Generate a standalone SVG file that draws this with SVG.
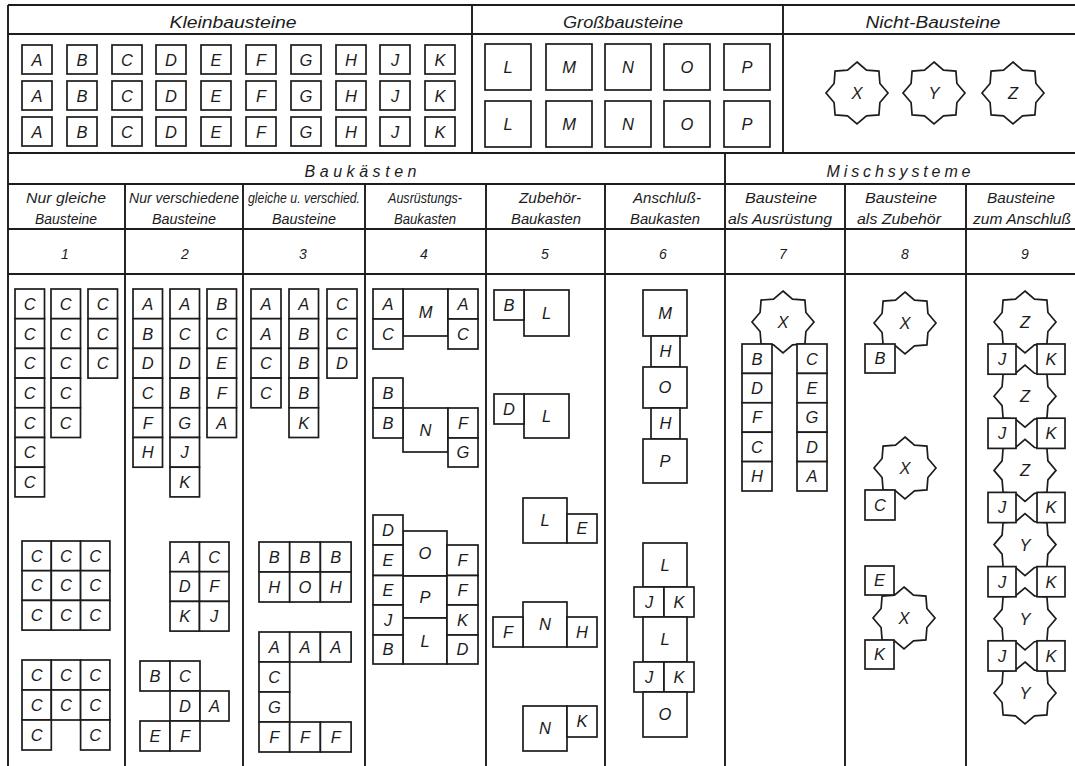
<svg xmlns="http://www.w3.org/2000/svg" xmlns:xlink="http://www.w3.org/1999/xlink" width="1075" height="766" viewBox="0 0 1075 766">
<style>
.bx{fill:#fff;stroke:#1c1c1c;stroke-width:1.7}
.tl{stroke:#1c1c1c;stroke-width:1.9;fill:none}
text{font-family:"Liberation Sans",Arial,sans-serif;font-style:italic;fill:#1c1c1c;text-anchor:middle}
.lt{font-size:16.5px}
.hd{font-size:16px}
.ch{font-size:14.5px}
.nm{font-size:14px}
</style>
<defs>
<polygon id="star" points="0,-31 9.49,-22.91 21.92,-21.92 22.91,-9.49 31,0 22.91,9.49 21.92,21.92 9.49,22.91 0,31 -9.49,22.91 -21.92,21.92 -22.91,9.49 -31,0 -22.91,-9.49 -21.92,-21.92 -9.49,-22.91" fill="#fff" stroke="#1c1c1c" stroke-width="1.7"/>
</defs>
<rect width="1075" height="766" fill="#fff"/>
<g id="table">
<path class="tl" d="M8,5 H1075 M8,34 H1075 M8,153 H1075 M8,184 H1075 M8,229 H1075 M8,274 H1075 M8,5 V766 M472,5 V153 M783,5 V153 M725,153 V766 M125,184 V766 M243,184 V766 M365,184 V766 M486,184 V766 M605,184 V766 M845,184 V766 M966,184 V766"/>
</g>
<g id="headers">
<text class="hd" x="233" y="28" textLength="127" lengthAdjust="spacingAndGlyphs">Kleinbausteine</text>
<text class="hd" x="623" y="28" textLength="120" lengthAdjust="spacingAndGlyphs">Großbausteine</text>
<text class="hd" x="933" y="28" textLength="135" lengthAdjust="spacingAndGlyphs">Nicht-Bausteine</text>
<text class="hd" x="362" y="177" textLength="115" letter-spacing="3">Baukästen</text>
<text class="hd" x="900" y="177" textLength="147" letter-spacing="3">Mischsysteme</text>
<text class="ch" x="66" y="203" textLength="80" lengthAdjust="spacingAndGlyphs">Nur gleiche</text>
<text class="ch" x="66" y="224" textLength="62" lengthAdjust="spacingAndGlyphs">Bausteine</text>
<text class="ch" x="184" y="203" textLength="110" lengthAdjust="spacingAndGlyphs">Nur verschiedene</text>
<text class="ch" x="184" y="224" textLength="64" lengthAdjust="spacingAndGlyphs">Bausteine</text>
<text class="ch" x="304" y="203" textLength="112" lengthAdjust="spacingAndGlyphs">gleiche u. verschied.</text>
<text class="ch" x="304" y="224" textLength="64" lengthAdjust="spacingAndGlyphs">Bausteine</text>
<text class="ch" x="425" y="203" textLength="74" lengthAdjust="spacingAndGlyphs">Ausrüstungs-</text>
<text class="ch" x="425" y="224" textLength="62" lengthAdjust="spacingAndGlyphs">Baukasten</text>
<text class="ch" x="550" y="203" textLength="62" lengthAdjust="spacingAndGlyphs">Zubehör-</text>
<text class="ch" x="546" y="224" textLength="70" lengthAdjust="spacingAndGlyphs">Baukasten</text>
<text class="ch" x="667" y="203" textLength="68" lengthAdjust="spacingAndGlyphs">Anschluß-</text>
<text class="ch" x="665" y="224" textLength="70" lengthAdjust="spacingAndGlyphs">Baukasten</text>
<text class="ch" x="781" y="203" textLength="72" lengthAdjust="spacingAndGlyphs">Bausteine</text>
<text class="ch" x="780" y="224" textLength="104" lengthAdjust="spacingAndGlyphs">als Ausrüstung</text>
<text class="ch" x="901" y="203" textLength="72" lengthAdjust="spacingAndGlyphs">Bausteine</text>
<text class="ch" x="899" y="224" textLength="84" lengthAdjust="spacingAndGlyphs">als Zubehör</text>
<text class="ch" x="1021" y="203" textLength="68" lengthAdjust="spacingAndGlyphs">Bausteine</text>
<text class="ch" x="1022" y="224" textLength="98" lengthAdjust="spacingAndGlyphs">zum Anschluß</text>
<text class="nm" x="65" y="259">1</text>
<text class="nm" x="185" y="259">2</text>
<text class="nm" x="303" y="259">3</text>
<text class="nm" x="424" y="259">4</text>
<text class="nm" x="545" y="259">5</text>
<text class="nm" x="663" y="259">6</text>
<text class="nm" x="783" y="259">7</text>
<text class="nm" x="905" y="259">8</text>
<text class="nm" x="1025" y="259">9</text>
</g>
<!-- Kleinbausteine -->
<g id="k1A"><rect class="bx" x="22" y="45" width="30" height="29"/><text class="lt" x="37" y="65.5">A</text></g>
<g id="k1B"><rect class="bx" x="67" y="45" width="30" height="29"/><text class="lt" x="82" y="65.5">B</text></g>
<g id="k1C"><rect class="bx" x="112" y="45" width="30" height="29"/><text class="lt" x="127" y="65.5">C</text></g>
<g id="k1D"><rect class="bx" x="156" y="45" width="30" height="29"/><text class="lt" x="171" y="65.5">D</text></g>
<g id="k1E"><rect class="bx" x="201" y="45" width="30" height="29"/><text class="lt" x="216" y="65.5">E</text></g>
<g id="k1F"><rect class="bx" x="246" y="45" width="30" height="29"/><text class="lt" x="261" y="65.5">F</text></g>
<g id="k1G"><rect class="bx" x="291" y="45" width="30" height="29"/><text class="lt" x="306" y="65.5">G</text></g>
<g id="k1H"><rect class="bx" x="336" y="45" width="30" height="29"/><text class="lt" x="351" y="65.5">H</text></g>
<g id="k1J"><rect class="bx" x="380" y="45" width="30" height="29"/><text class="lt" x="395" y="65.5">J</text></g>
<g id="k1K"><rect class="bx" x="425" y="45" width="30" height="29"/><text class="lt" x="440" y="65.5">K</text></g>
<g id="k2A"><rect class="bx" x="22" y="81" width="30" height="29"/><text class="lt" x="37" y="101.5">A</text></g>
<g id="k2B"><rect class="bx" x="67" y="81" width="30" height="29"/><text class="lt" x="82" y="101.5">B</text></g>
<g id="k2C"><rect class="bx" x="112" y="81" width="30" height="29"/><text class="lt" x="127" y="101.5">C</text></g>
<g id="k2D"><rect class="bx" x="156" y="81" width="30" height="29"/><text class="lt" x="171" y="101.5">D</text></g>
<g id="k2E"><rect class="bx" x="201" y="81" width="30" height="29"/><text class="lt" x="216" y="101.5">E</text></g>
<g id="k2F"><rect class="bx" x="246" y="81" width="30" height="29"/><text class="lt" x="261" y="101.5">F</text></g>
<g id="k2G"><rect class="bx" x="291" y="81" width="30" height="29"/><text class="lt" x="306" y="101.5">G</text></g>
<g id="k2H"><rect class="bx" x="336" y="81" width="30" height="29"/><text class="lt" x="351" y="101.5">H</text></g>
<g id="k2J"><rect class="bx" x="380" y="81" width="30" height="29"/><text class="lt" x="395" y="101.5">J</text></g>
<g id="k2K"><rect class="bx" x="425" y="81" width="30" height="29"/><text class="lt" x="440" y="101.5">K</text></g>
<g id="k3A"><rect class="bx" x="22" y="117" width="30" height="29"/><text class="lt" x="37" y="137.5">A</text></g>
<g id="k3B"><rect class="bx" x="67" y="117" width="30" height="29"/><text class="lt" x="82" y="137.5">B</text></g>
<g id="k3C"><rect class="bx" x="112" y="117" width="30" height="29"/><text class="lt" x="127" y="137.5">C</text></g>
<g id="k3D"><rect class="bx" x="156" y="117" width="30" height="29"/><text class="lt" x="171" y="137.5">D</text></g>
<g id="k3E"><rect class="bx" x="201" y="117" width="30" height="29"/><text class="lt" x="216" y="137.5">E</text></g>
<g id="k3F"><rect class="bx" x="246" y="117" width="30" height="29"/><text class="lt" x="261" y="137.5">F</text></g>
<g id="k3G"><rect class="bx" x="291" y="117" width="30" height="29"/><text class="lt" x="306" y="137.5">G</text></g>
<g id="k3H"><rect class="bx" x="336" y="117" width="30" height="29"/><text class="lt" x="351" y="137.5">H</text></g>
<g id="k3J"><rect class="bx" x="380" y="117" width="30" height="29"/><text class="lt" x="395" y="137.5">J</text></g>
<g id="k3K"><rect class="bx" x="425" y="117" width="30" height="29"/><text class="lt" x="440" y="137.5">K</text></g>
<!-- Grossbausteine -->
<g id="g1L"><rect class="bx" x="485" y="44" width="46" height="46"/><text class="lt" x="508" y="73">L</text></g>
<g id="g1M"><rect class="bx" x="546" y="44" width="46" height="46"/><text class="lt" x="569" y="73">M</text></g>
<g id="g1N"><rect class="bx" x="605" y="44" width="46" height="46"/><text class="lt" x="628" y="73">N</text></g>
<g id="g1O"><rect class="bx" x="664" y="44" width="46" height="46"/><text class="lt" x="687" y="73">O</text></g>
<g id="g1P"><rect class="bx" x="724" y="44" width="46" height="46"/><text class="lt" x="747" y="73">P</text></g>
<g id="g2L"><rect class="bx" x="485" y="101" width="46" height="46"/><text class="lt" x="508" y="130">L</text></g>
<g id="g2M"><rect class="bx" x="546" y="101" width="46" height="46"/><text class="lt" x="569" y="130">M</text></g>
<g id="g2N"><rect class="bx" x="605" y="101" width="46" height="46"/><text class="lt" x="628" y="130">N</text></g>
<g id="g2O"><rect class="bx" x="664" y="101" width="46" height="46"/><text class="lt" x="687" y="130">O</text></g>
<g id="g2P"><rect class="bx" x="724" y="101" width="46" height="46"/><text class="lt" x="747" y="130">P</text></g>
<!-- Nicht-Bausteine -->
<g id="nX"><use xlink:href="#star" x="857" y="93"/><text class="lt" x="857" y="99">X</text></g>
<g id="nY"><use xlink:href="#star" x="934" y="93"/><text class="lt" x="934" y="99">Y</text></g>
<g id="nZ"><use xlink:href="#star" x="1013" y="93"/><text class="lt" x="1013" y="99">Z</text></g>
<!-- Column 1 -->
<g id="c1a1"><rect class="bx" x="15" y="289" width="29.5" height="29.7"/><text class="lt" x="29.7" y="309.8">C</text></g>
<g id="c1a2"><rect class="bx" x="15" y="318.7" width="29.5" height="29.7"/><text class="lt" x="29.7" y="339.5">C</text></g>
<g id="c1a3"><rect class="bx" x="15" y="348.4" width="29.5" height="29.7"/><text class="lt" x="29.7" y="369.2">C</text></g>
<g id="c1a4"><rect class="bx" x="15" y="378.1" width="29.5" height="29.7"/><text class="lt" x="29.7" y="398.9">C</text></g>
<g id="c1a5"><rect class="bx" x="15" y="407.8" width="29.5" height="29.7"/><text class="lt" x="29.7" y="428.6">C</text></g>
<g id="c1a6"><rect class="bx" x="15" y="437.5" width="29.5" height="29.7"/><text class="lt" x="29.7" y="458.3">C</text></g>
<g id="c1a7"><rect class="bx" x="15" y="467.2" width="29.5" height="29.7"/><text class="lt" x="29.7" y="488">C</text></g>
<g id="c1b1"><rect class="bx" x="51" y="289" width="29.5" height="29.7"/><text class="lt" x="65.7" y="309.8">C</text></g>
<g id="c1b2"><rect class="bx" x="51" y="318.7" width="29.5" height="29.7"/><text class="lt" x="65.7" y="339.5">C</text></g>
<g id="c1b3"><rect class="bx" x="51" y="348.4" width="29.5" height="29.7"/><text class="lt" x="65.7" y="369.2">C</text></g>
<g id="c1b4"><rect class="bx" x="51" y="378.1" width="29.5" height="29.7"/><text class="lt" x="65.7" y="398.9">C</text></g>
<g id="c1b5"><rect class="bx" x="51" y="407.8" width="29.5" height="29.7"/><text class="lt" x="65.7" y="428.6">C</text></g>
<g id="c1c1"><rect class="bx" x="88" y="289" width="29.5" height="29.7"/><text class="lt" x="102.7" y="309.8">C</text></g>
<g id="c1c2"><rect class="bx" x="88" y="318.7" width="29.5" height="29.7"/><text class="lt" x="102.7" y="339.5">C</text></g>
<g id="c1c3"><rect class="bx" x="88" y="348.4" width="29.5" height="29.7"/><text class="lt" x="102.7" y="369.2">C</text></g>
<g id="c1g1"><rect class="bx" x="22" y="541" width="29.3" height="29.7"/><text class="lt" x="36.7" y="561.7">C</text>
<rect class="bx" x="51.3" y="541" width="29.3" height="29.7"/><text class="lt" x="66" y="561.7">C</text>
<rect class="bx" x="80.6" y="541" width="29.3" height="29.7"/><text class="lt" x="95.3" y="561.7">C</text>
<rect class="bx" x="22" y="570.7" width="29.3" height="29.7"/><text class="lt" x="36.7" y="591.4">C</text>
<rect class="bx" x="51.3" y="570.7" width="29.3" height="29.7"/><text class="lt" x="66" y="591.4">C</text>
<rect class="bx" x="80.6" y="570.7" width="29.3" height="29.7"/><text class="lt" x="95.3" y="591.4">C</text>
<rect class="bx" x="22" y="600.4" width="29.3" height="29.7"/><text class="lt" x="36.7" y="621.1">C</text>
<rect class="bx" x="51.3" y="600.4" width="29.3" height="29.7"/><text class="lt" x="66" y="621.1">C</text>
<rect class="bx" x="80.6" y="600.4" width="29.3" height="29.7"/><text class="lt" x="95.3" y="621.1">C</text></g>
<g id="c1g2"><rect class="bx" x="22" y="660" width="29.3" height="30"/><text class="lt" x="36.7" y="680.9">C</text>
<rect class="bx" x="51.3" y="660" width="29.3" height="30"/><text class="lt" x="66" y="680.9">C</text>
<rect class="bx" x="80.6" y="660" width="29.3" height="30"/><text class="lt" x="95.3" y="680.9">C</text>
<rect class="bx" x="22" y="690" width="29.3" height="30"/><text class="lt" x="36.7" y="710.9">C</text>
<rect class="bx" x="51.3" y="690" width="29.3" height="30"/><text class="lt" x="66" y="710.9">C</text>
<rect class="bx" x="80.6" y="690" width="29.3" height="30"/><text class="lt" x="95.3" y="710.9">C</text>
<rect class="bx" x="22" y="720" width="29.3" height="30"/><text class="lt" x="36.7" y="740.9">C</text>
<rect class="bx" x="80.6" y="720" width="29.3" height="30"/><text class="lt" x="95.3" y="740.9">C</text></g>
<!-- Column 2 -->
<g id="c2a"><rect class="bx" x="133" y="289" width="29.5" height="29.7"/><text class="lt" x="147.7" y="309.8">A</text>
<rect class="bx" x="133" y="318.7" width="29.5" height="29.7"/><text class="lt" x="147.7" y="339.5">B</text>
<rect class="bx" x="133" y="348.4" width="29.5" height="29.7"/><text class="lt" x="147.7" y="369.2">D</text>
<rect class="bx" x="133" y="378.1" width="29.5" height="29.7"/><text class="lt" x="147.7" y="398.9">C</text>
<rect class="bx" x="133" y="407.8" width="29.5" height="29.7"/><text class="lt" x="147.7" y="428.6">F</text>
<rect class="bx" x="133" y="437.5" width="29.5" height="29.7"/><text class="lt" x="147.7" y="458.3">H</text></g>
<g id="c2b"><rect class="bx" x="170" y="289" width="29.5" height="29.7"/><text class="lt" x="184.7" y="309.8">A</text>
<rect class="bx" x="170" y="318.7" width="29.5" height="29.7"/><text class="lt" x="184.7" y="339.5">C</text>
<rect class="bx" x="170" y="348.4" width="29.5" height="29.7"/><text class="lt" x="184.7" y="369.2">D</text>
<rect class="bx" x="170" y="378.1" width="29.5" height="29.7"/><text class="lt" x="184.7" y="398.9">B</text>
<rect class="bx" x="170" y="407.8" width="29.5" height="29.7"/><text class="lt" x="184.7" y="428.6">G</text>
<rect class="bx" x="170" y="437.5" width="29.5" height="29.7"/><text class="lt" x="184.7" y="458.3">J</text>
<rect class="bx" x="170" y="467.2" width="29.5" height="29.7"/><text class="lt" x="184.7" y="488">K</text></g>
<g id="c2c"><rect class="bx" x="207" y="289" width="29.5" height="29.7"/><text class="lt" x="221.7" y="309.8">B</text>
<rect class="bx" x="207" y="318.7" width="29.5" height="29.7"/><text class="lt" x="221.7" y="339.5">C</text>
<rect class="bx" x="207" y="348.4" width="29.5" height="29.7"/><text class="lt" x="221.7" y="369.2">E</text>
<rect class="bx" x="207" y="378.1" width="29.5" height="29.7"/><text class="lt" x="221.7" y="398.9">F</text>
<rect class="bx" x="207" y="407.8" width="29.5" height="29.7"/><text class="lt" x="221.7" y="428.6">A</text></g>
<g id="c2g1"><rect class="bx" x="170" y="542" width="29.5" height="29.7"/><text class="lt" x="184.7" y="562.7">A</text>
<rect class="bx" x="199.5" y="542" width="29.5" height="29.7"/><text class="lt" x="214.2" y="562.7">C</text>
<rect class="bx" x="170" y="571.7" width="29.5" height="29.7"/><text class="lt" x="184.7" y="592.4">D</text>
<rect class="bx" x="199.5" y="571.7" width="29.5" height="29.7"/><text class="lt" x="214.2" y="592.4">F</text>
<rect class="bx" x="170" y="601.4" width="29.5" height="29.7"/><text class="lt" x="184.7" y="622.1">K</text>
<rect class="bx" x="199.5" y="601.4" width="29.5" height="29.7"/><text class="lt" x="214.2" y="622.1">J</text></g>
<g id="c2g2"><rect class="bx" x="140" y="661" width="30" height="30"/><text class="lt" x="155" y="681.9">B</text>
<rect class="bx" x="170" y="661" width="30" height="30"/><text class="lt" x="185" y="681.9">C</text>
<rect class="bx" x="170" y="691" width="30" height="30"/><text class="lt" x="185" y="711.9">D</text>
<rect class="bx" x="200" y="691" width="29" height="30"/><text class="lt" x="214.5" y="711.9">A</text>
<rect class="bx" x="140" y="721" width="30" height="30"/><text class="lt" x="155" y="741.9">E</text>
<rect class="bx" x="170" y="721" width="30" height="30"/><text class="lt" x="185" y="741.9">F</text></g>
<!-- Column 3 -->
<g id="c3a"><rect class="bx" x="251" y="289" width="30" height="29.7"/><text class="lt" x="266" y="309.8">A</text>
<rect class="bx" x="251" y="318.7" width="30" height="29.7"/><text class="lt" x="266" y="339.5">A</text>
<rect class="bx" x="251" y="348.4" width="30" height="29.7"/><text class="lt" x="266" y="369.2">C</text>
<rect class="bx" x="251" y="378.1" width="30" height="29.7"/><text class="lt" x="266" y="398.9">C</text></g>
<g id="c3b"><rect class="bx" x="289" y="289" width="29.5" height="29.7"/><text class="lt" x="303.7" y="309.8">A</text>
<rect class="bx" x="289" y="318.7" width="29.5" height="29.7"/><text class="lt" x="303.7" y="339.5">B</text>
<rect class="bx" x="289" y="348.4" width="29.5" height="29.7"/><text class="lt" x="303.7" y="369.2">B</text>
<rect class="bx" x="289" y="378.1" width="29.5" height="29.7"/><text class="lt" x="303.7" y="398.9">B</text>
<rect class="bx" x="289" y="407.8" width="29.5" height="29.7"/><text class="lt" x="303.7" y="428.6">K</text></g>
<g id="c3c"><rect class="bx" x="327" y="289" width="30" height="29.7"/><text class="lt" x="342" y="309.8">C</text>
<rect class="bx" x="327" y="318.7" width="30" height="29.7"/><text class="lt" x="342" y="339.5">C</text>
<rect class="bx" x="327" y="348.4" width="30" height="29.7"/><text class="lt" x="342" y="369.2">D</text></g>
<g id="c3g1"><rect class="bx" x="259" y="542" width="30.7" height="30"/><text class="lt" x="274.3" y="562.9">B</text>
<rect class="bx" x="289.7" y="542" width="30.7" height="30"/><text class="lt" x="305" y="562.9">B</text>
<rect class="bx" x="320.4" y="542" width="30.7" height="30"/><text class="lt" x="335.7" y="562.9">B</text>
<rect class="bx" x="259" y="572" width="30.7" height="30"/><text class="lt" x="274.3" y="592.9">H</text>
<rect class="bx" x="289.7" y="572" width="30.7" height="30"/><text class="lt" x="305" y="592.9">O</text>
<rect class="bx" x="320.4" y="572" width="30.7" height="30"/><text class="lt" x="335.7" y="592.9">H</text></g>
<g id="c3g2"><rect class="bx" x="259" y="632" width="30.7" height="30"/><text class="lt" x="274.3" y="652.9">A</text>
<rect class="bx" x="289.7" y="632" width="30.7" height="30"/><text class="lt" x="305" y="652.9">A</text>
<rect class="bx" x="320.4" y="632" width="30.7" height="30"/><text class="lt" x="335.7" y="652.9">A</text>
<rect class="bx" x="259" y="662" width="30.7" height="30"/><text class="lt" x="274.3" y="682.9">C</text>
<rect class="bx" x="259" y="692" width="30.7" height="30"/><text class="lt" x="274.3" y="712.9">G</text>
<rect class="bx" x="259" y="722" width="30.7" height="30"/><text class="lt" x="274.3" y="742.9">F</text>
<rect class="bx" x="289.7" y="722" width="30.7" height="30"/><text class="lt" x="305" y="742.9">F</text>
<rect class="bx" x="320.4" y="722" width="30.7" height="30"/><text class="lt" x="335.7" y="742.9">F</text></g>
<!-- Column 4 -->
<g id="c4g1"><rect class="bx" x="403" y="289" width="45" height="47"/><text class="lt" x="425.5" y="318.4">M</text>
<rect class="bx" x="373" y="289" width="30" height="30"/><text class="lt" x="388" y="309.9">A</text>
<rect class="bx" x="373" y="319" width="30" height="30"/><text class="lt" x="388" y="339.9">C</text>
<rect class="bx" x="448" y="289" width="30" height="30"/><text class="lt" x="463" y="309.9">A</text>
<rect class="bx" x="448" y="319" width="30" height="30"/><text class="lt" x="463" y="339.9">C</text></g>
<g id="c4g2"><rect class="bx" x="403" y="408" width="45" height="44"/><text class="lt" x="425.5" y="435.9">N</text>
<rect class="bx" x="373" y="378" width="30" height="30"/><text class="lt" x="388" y="398.9">B</text>
<rect class="bx" x="373" y="408" width="30" height="30"/><text class="lt" x="388" y="428.9">B</text>
<rect class="bx" x="448" y="408" width="30" height="30"/><text class="lt" x="463" y="428.9">F</text>
<rect class="bx" x="448" y="438" width="30" height="29"/><text class="lt" x="463" y="458.4">G</text></g>
<g id="c4g3"><rect class="bx" x="403" y="531" width="44" height="45"/><text class="lt" x="425" y="559.4">O</text>
<rect class="bx" x="403" y="576" width="44" height="42"/><text class="lt" x="425" y="602.9">P</text>
<rect class="bx" x="403" y="618" width="44" height="46"/><text class="lt" x="425" y="646.9">L</text>
<rect class="bx" x="373" y="515" width="30" height="30"/><text class="lt" x="388" y="535.9">D</text>
<rect class="bx" x="373" y="545" width="30" height="30.5"/><text class="lt" x="388" y="566.1">E</text>
<rect class="bx" x="373" y="575.5" width="30" height="29.5"/><text class="lt" x="388" y="596.1">E</text>
<rect class="bx" x="373" y="605" width="30" height="30"/><text class="lt" x="388" y="625.9">J</text>
<rect class="bx" x="373" y="635" width="30" height="29"/><text class="lt" x="388" y="655.4">B</text>
<rect class="bx" x="447" y="545" width="31" height="30.5"/><text class="lt" x="462.5" y="566.1">F</text>
<rect class="bx" x="447" y="575.5" width="31" height="29.5"/><text class="lt" x="462.5" y="596.1">F</text>
<rect class="bx" x="447" y="605" width="31" height="30"/><text class="lt" x="462.5" y="625.9">K</text>
<rect class="bx" x="447" y="635" width="31" height="29"/><text class="lt" x="462.5" y="655.4">D</text></g>
<!-- Column 5 -->
<g id="c5g1"><rect class="bx" x="524" y="290" width="45" height="46"/><text class="lt" x="546.5" y="318.9">L</text>
<rect class="bx" x="494" y="290" width="30" height="30"/><text class="lt" x="509" y="310.9">B</text></g>
<g id="c5g2"><rect class="bx" x="524" y="394" width="45" height="44"/><text class="lt" x="546.5" y="421.9">L</text>
<rect class="bx" x="494" y="394" width="30" height="30"/><text class="lt" x="509" y="414.9">D</text></g>
<g id="c5g3"><rect class="bx" x="523" y="498" width="44" height="45"/><text class="lt" x="545" y="526.4">L</text>
<rect class="bx" x="567" y="514" width="30" height="29"/><text class="lt" x="582" y="534.4">E</text></g>
<g id="c5g4"><rect class="bx" x="523" y="602" width="44" height="45"/><text class="lt" x="545" y="630.4">N</text>
<rect class="bx" x="493" y="617" width="30" height="30"/><text class="lt" x="508" y="637.9">F</text>
<rect class="bx" x="567" y="617" width="30" height="30"/><text class="lt" x="582" y="637.9">H</text></g>
<g id="c5g5"><rect class="bx" x="523" y="706" width="44" height="45"/><text class="lt" x="545" y="734.4">N</text>
<rect class="bx" x="567" y="706" width="30" height="31"/><text class="lt" x="582" y="727.4">K</text></g>
<!-- Column 6 -->
<g id="c6g1"><rect class="bx" x="643" y="290" width="44" height="46"/><text class="lt" x="665" y="318.9">M</text>
<rect class="bx" x="651" y="336" width="29" height="31"/><text class="lt" x="665.5" y="357.4">H</text>
<rect class="bx" x="643" y="367" width="44" height="41"/><text class="lt" x="665" y="393.4">O</text>
<rect class="bx" x="651" y="408" width="29" height="31"/><text class="lt" x="665.5" y="429.4">H</text>
<rect class="bx" x="643" y="439" width="44" height="44"/><text class="lt" x="665" y="466.9">P</text></g>
<g id="c6g2"><rect class="bx" x="643" y="543" width="44" height="44"/><text class="lt" x="665" y="570.9">L</text>
<rect class="bx" x="634" y="587" width="30" height="30"/><text class="lt" x="649" y="607.9">J</text>
<rect class="bx" x="664" y="587" width="30" height="30"/><text class="lt" x="679" y="607.9">K</text>
<rect class="bx" x="643" y="617" width="44" height="45"/><text class="lt" x="665" y="645.4">L</text>
<rect class="bx" x="634" y="662" width="30" height="30"/><text class="lt" x="649" y="682.9">J</text>
<rect class="bx" x="664" y="662" width="30" height="30"/><text class="lt" x="679" y="682.9">K</text>
<rect class="bx" x="643" y="692" width="44" height="45"/><text class="lt" x="665" y="720.4">O</text></g>
<!-- Column 7 -->
<g id="c7"><use xlink:href="#star" x="783" y="322"/><text class="lt" x="783" y="328">X</text>
<rect class="bx" x="742" y="344" width="30" height="29.4"/><text class="lt" x="757" y="364.6">B</text>
<rect class="bx" x="742" y="373.4" width="30" height="29.4"/><text class="lt" x="757" y="394">D</text>
<rect class="bx" x="742" y="402.8" width="30" height="29.4"/><text class="lt" x="757" y="423.4">F</text>
<rect class="bx" x="742" y="432.2" width="30" height="29.4"/><text class="lt" x="757" y="452.8">C</text>
<rect class="bx" x="742" y="461.6" width="30" height="29.4"/><text class="lt" x="757" y="482.2">H</text>
<rect class="bx" x="797" y="344" width="30" height="29.4"/><text class="lt" x="812" y="364.6">C</text>
<rect class="bx" x="797" y="373.4" width="30" height="29.4"/><text class="lt" x="812" y="394">E</text>
<rect class="bx" x="797" y="402.8" width="30" height="29.4"/><text class="lt" x="812" y="423.4">G</text>
<rect class="bx" x="797" y="432.2" width="30" height="29.4"/><text class="lt" x="812" y="452.8">D</text>
<rect class="bx" x="797" y="461.6" width="30" height="29.4"/><text class="lt" x="812" y="482.2">A</text></g>
<!-- Column 8 -->
<g id="c8g1"><use xlink:href="#star" x="905" y="323"/><text class="lt" x="905" y="329">X</text>
<rect class="bx" x="865" y="344" width="30" height="29"/><text class="lt" x="880" y="364.4">B</text></g>
<g id="c8g2"><use xlink:href="#star" x="905" y="468"/><text class="lt" x="905" y="474">X</text>
<rect class="bx" x="865" y="490" width="30" height="30"/><text class="lt" x="880" y="510.9">C</text></g>
<g id="c8g3"><use xlink:href="#star" x="904" y="618"/><text class="lt" x="904" y="624">X</text>
<rect class="bx" x="865" y="566" width="29" height="29"/><text class="lt" x="879.5" y="586.4">E</text>
<rect class="bx" x="865" y="640" width="29" height="29"/><text class="lt" x="879.5" y="660.4">K</text></g>
<!-- Column 9 -->
<g id="c9"><use xlink:href="#star" x="1025" y="322"/><text class="lt" x="1025" y="328">Z</text>
<use xlink:href="#star" x="1025" y="396.2"/><text class="lt" x="1025" y="402.2">Z</text>
<use xlink:href="#star" x="1025" y="470.4"/><text class="lt" x="1025" y="476.4">Z</text>
<use xlink:href="#star" x="1025" y="544.6"/><text class="lt" x="1025" y="550.6">Y</text>
<use xlink:href="#star" x="1025" y="618.8"/><text class="lt" x="1025" y="624.8">Y</text>
<use xlink:href="#star" x="1025" y="693"/><text class="lt" x="1025" y="699">Y</text>
<rect class="bx" x="988" y="344" width="28" height="30.2"/><text class="lt" x="1002" y="365">J</text>
<rect class="bx" x="1037" y="344" width="28" height="30.2"/><text class="lt" x="1051" y="365">K</text>
<rect class="bx" x="988" y="418.2" width="28" height="30.2"/><text class="lt" x="1002" y="439.2">J</text>
<rect class="bx" x="1037" y="418.2" width="28" height="30.2"/><text class="lt" x="1051" y="439.2">K</text>
<rect class="bx" x="988" y="492.4" width="28" height="30.2"/><text class="lt" x="1002" y="513.4">J</text>
<rect class="bx" x="1037" y="492.4" width="28" height="30.2"/><text class="lt" x="1051" y="513.4">K</text>
<rect class="bx" x="988" y="566.6" width="28" height="30.2"/><text class="lt" x="1002" y="587.6">J</text>
<rect class="bx" x="1037" y="566.6" width="28" height="30.2"/><text class="lt" x="1051" y="587.6">K</text>
<rect class="bx" x="988" y="640.8" width="28" height="30.2"/><text class="lt" x="1002" y="661.8">J</text>
<rect class="bx" x="1037" y="640.8" width="28" height="30.2"/><text class="lt" x="1051" y="661.8">K</text></g>
</svg>
